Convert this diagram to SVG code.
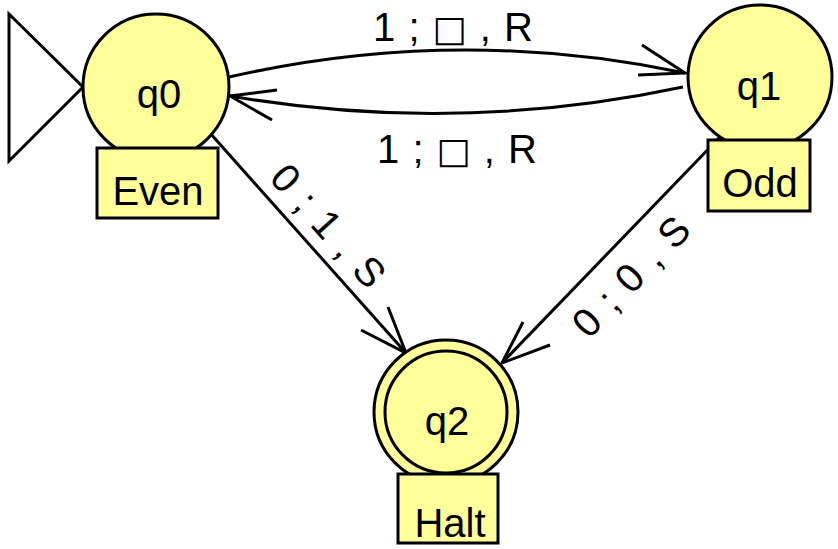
<svg xmlns="http://www.w3.org/2000/svg" width="838" height="549" viewBox="0 0 838 549">
<style>
.st{fill:#ffff99;stroke:#000;stroke-width:3}
.lb{fill:#ffff99;stroke:#000;stroke-width:3}
.e{fill:none;stroke:#000;stroke-width:3}
text{font-family:"Liberation Sans",Arial,"DejaVu Sans",sans-serif;font-size:40px;fill:#000;text-anchor:middle}
.sq{font-family:"DejaVu Sans",sans-serif;font-size:36px}
</style>
<rect width="838" height="549" fill="#fff"/>
<g id="connectors">
<polygon class="e" points="9,14 83,87 9,161" fill="#fff"/>
<path class="e" d="M229,77 Q457,25 685,73"/>
<polyline class="e" points="642,45 685,73 638,75"/>
<text x="453" y="41" textLength="160" lengthAdjust="spacing">1 ; <tspan class="sq">□</tspan> , R</text>
<path class="e" d="M683,87 Q457,135 230,96"/>
<polyline class="e" points="277,90 230,96 272,120"/>
<text x="457" y="163" textLength="160" lengthAdjust="spacing">1 ; <tspan class="sq">□</tspan> , R</text>
<line class="e" x1="210" y1="133" x2="406" y2="353"/>
<polyline class="e" points="361,330 406,353 388,307"/>
<text transform="translate(318,235) rotate(48.3)" textLength="150" lengthAdjust="spacing">0 ; 1 , S</text>
<line class="e" x1="720" y1="137" x2="502" y2="363"/>
<polyline class="e" points="523,322 502,363 550,345"/>
<text transform="translate(641,286) rotate(-46.1)" textLength="150" lengthAdjust="spacing">0 ; 0 , S</text>
</g>
<g id="q0">
<circle class="st" cx="156" cy="87" r="73"/>
<text x="159" y="108">q0</text>
<rect class="lb" x="97" y="148" width="121" height="70"/>
<text x="158" y="205">Even</text>
</g>
<g id="q1">
<circle class="st" cx="760" cy="77" r="72"/>
<text x="759" y="100">q1</text>
<rect class="lb" x="708" y="140" width="102" height="71"/>
<text x="760" y="197">Odd</text>
</g>
<g id="q2">
<circle class="st" cx="446" cy="412" r="72"/>
<circle class="st" cx="446" cy="412" r="61"/>
<text x="447" y="435">q2</text>
<rect class="lb" x="398" y="474" width="100" height="69"/>
<text x="450" y="537">Halt</text>
</g>
</svg>
